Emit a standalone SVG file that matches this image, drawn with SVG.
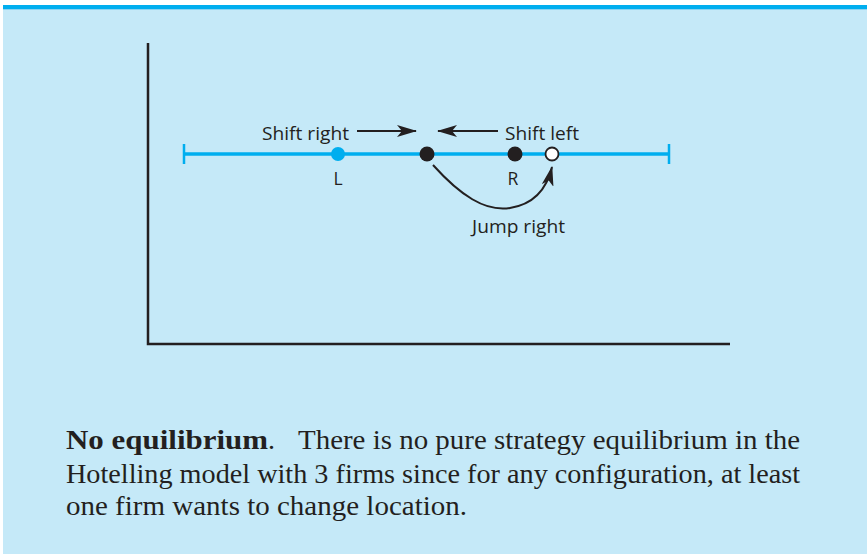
<svg xmlns="http://www.w3.org/2000/svg" width="867" height="554" viewBox="0 0 867 554">
<defs>
<marker id="ah" viewBox="0 0 20 12" refX="19" refY="6" markerWidth="20" markerHeight="12" markerUnits="userSpaceOnUse" orient="auto">
<path d="M0,0 L20,6 L0,12 L5,6 Z" fill="#231F20"/>
</marker>
<style>
.lbl{font-family:"Open Sans","Liberation Sans",sans-serif;font-size:17.5px;fill:#231F20}
.cap{font-family:'Liberation Serif',serif;font-size:28px;fill:#231F20}
.axis{stroke:#231F20;stroke-width:2.5;fill:none}
.arr{stroke:#231F20;stroke-width:2;fill:none}
.blue{stroke:#00AEEF;stroke-width:3.5;fill:none}
</style>
</defs>
<rect x="0" y="0" width="867" height="554" fill="#FFFFFF"/>
<rect x="3" y="5" width="864" height="549" fill="#C5E9F8"/>
<rect x="3" y="5" width="864" height="4" fill="#00AEEF"/>
<rect x="3" y="9" width="864" height="1" fill="#8AD3F2"/>
<g id="axes">
<path class="axis" d="M148,43 V344 H730"/>
</g>
<g id="line">
<path class="blue" d="M184,154 H669"/>
<path class="blue" d="M184,144 V164 M669,144 V164" style="stroke-width:2.5"/>
</g>
<g id="connectors">
<path class="arr" d="M357,131 H416" marker-end="url(#ah)"/>
<path class="arr" d="M498,131 H438" marker-end="url(#ah)"/>
<path class="arr" d="M433,165 C460,195 485,212 510,208 C535,204 547,188 552,167" marker-end="url(#ah)"/>
</g>
<g id="firmL">
<circle cx="338" cy="154" r="7" fill="#00AEEF"/>
<text class="lbl" x="338" y="185" text-anchor="middle">L</text>
</g>
<g id="firmM">
<circle cx="427" cy="154" r="7.5" fill="#231F20"/>
</g>
<g id="firmR">
<circle cx="515" cy="154" r="7.5" fill="#231F20"/>
<text class="lbl" x="513" y="185" text-anchor="middle">R</text>
</g>
<g id="firmNew">
<circle cx="552" cy="154" r="6.5" fill="#FFFFFF" stroke="#231F20" stroke-width="1.8"/>
</g>
<g id="labels">
<text class="lbl" x="262" y="140" textLength="87" lengthAdjust="spacingAndGlyphs">Shift right</text>
<text class="lbl" x="505" y="140" textLength="74" lengthAdjust="spacingAndGlyphs">Shift left</text>
<text class="lbl" x="472" y="233" textLength="93" lengthAdjust="spacingAndGlyphs">Jump right</text>
</g>
<g id="caption">
<text class="cap" x="66" y="449"><tspan font-weight="bold" textLength="202" lengthAdjust="spacingAndGlyphs">No equilibrium</tspan><tspan>.</tspan><tspan x="298" textLength="502" lengthAdjust="spacingAndGlyphs">There is no pure strategy equilibrium in the</tspan></text>
<text class="cap" x="66" y="483" textLength="734" lengthAdjust="spacingAndGlyphs">Hotelling model with 3 firms since for any configuration, at least</text>
<text class="cap" x="66" y="515" textLength="401" lengthAdjust="spacingAndGlyphs">one firm wants to change location.</text>
</g>
</svg>
